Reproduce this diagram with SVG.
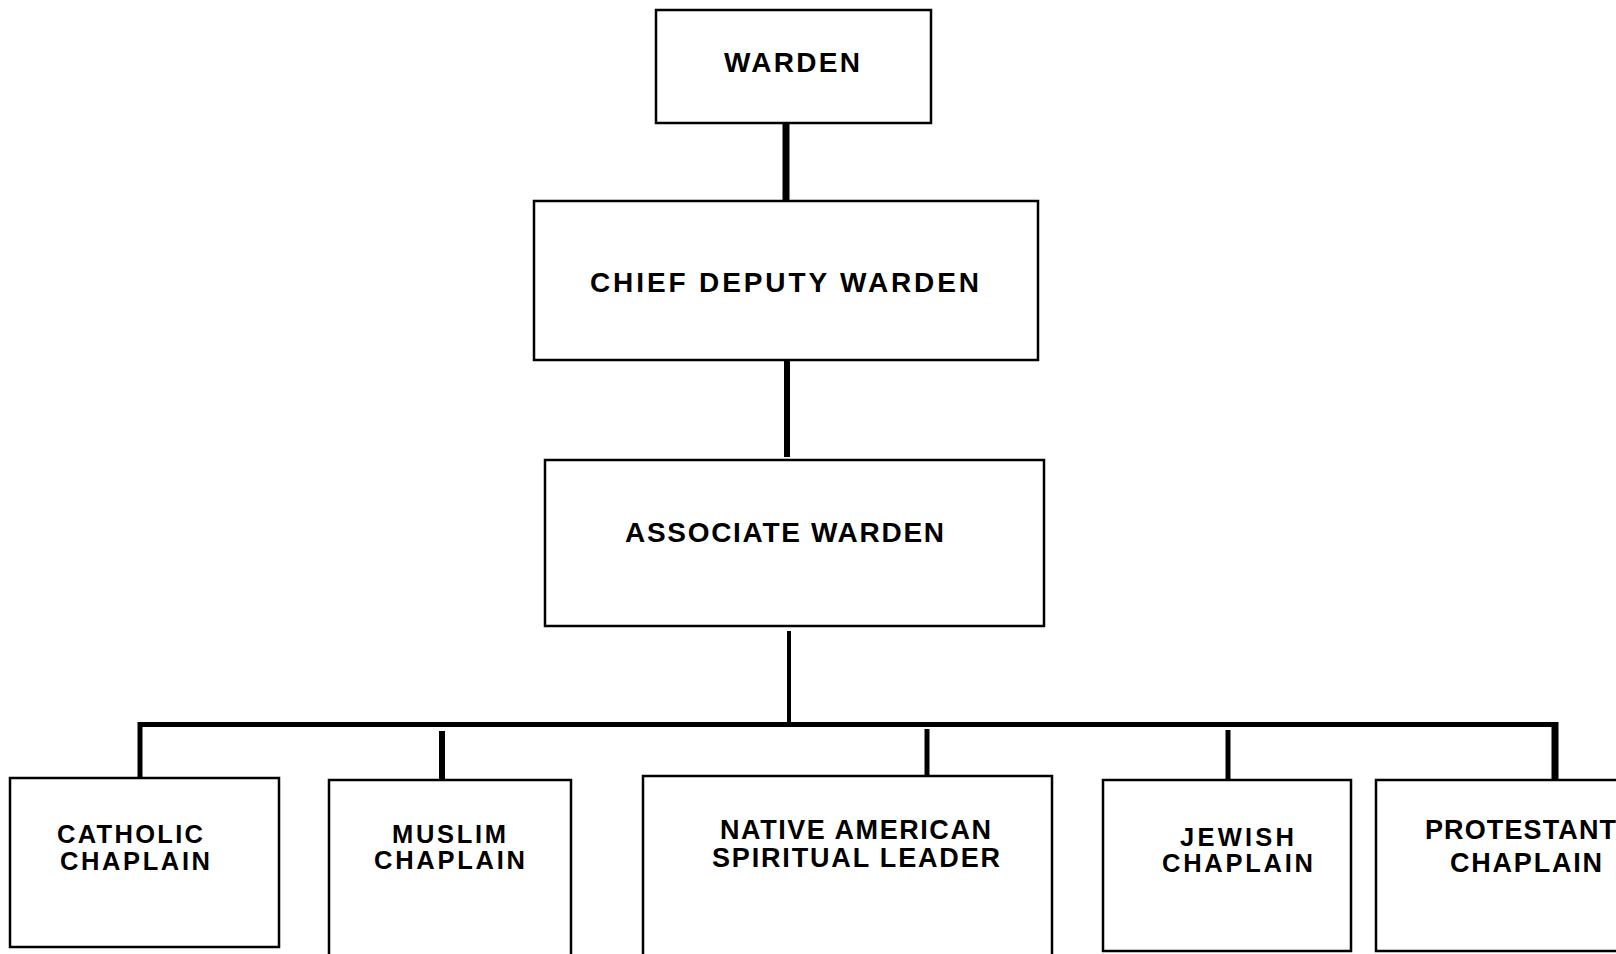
<svg xmlns="http://www.w3.org/2000/svg" width="1616" height="954" viewBox="0 0 1616 954">
<style>
.box{fill:#fff;stroke:#000;stroke-width:2.5}
.t{font-family:"Liberation Sans",Arial,sans-serif;font-weight:bold;font-size:28px;fill:#000}
.s{font-size:27px}
.n{font-size:25.5px}
.c{stroke:#000;fill:none;stroke-linecap:butt}
</style>
<rect width="1616" height="954" fill="#fff"/>
<g id="connectors">
<line class="c" x1="786" y1="123" x2="786" y2="201" stroke-width="7"/>
<line class="c" x1="787" y1="360" x2="787" y2="457" stroke-width="6"/>
<line class="c" x1="789" y1="631" x2="789" y2="725" stroke-width="4"/>
<line class="c" x1="138" y1="724.5" x2="1558" y2="724.5" stroke-width="5"/>
<line class="c" x1="140" y1="722" x2="140" y2="778" stroke-width="5"/>
<line class="c" x1="442" y1="731" x2="442" y2="780" stroke-width="6"/>
<line class="c" x1="927" y1="729" x2="927" y2="776" stroke-width="5"/>
<line class="c" x1="1228" y1="730" x2="1228" y2="780" stroke-width="5"/>
<line class="c" x1="1555" y1="722" x2="1555" y2="780" stroke-width="7"/>
</g>
<g id="warden">
<rect class="box" x="656" y="10" width="275" height="113"/>
<text class="t" x="724" y="72" textLength="136" lengthAdjust="spacing">WARDEN</text>
</g>
<g id="chief-deputy-warden">
<rect class="box" x="534" y="201" width="504" height="159"/>
<text class="t" x="590" y="292" textLength="389" lengthAdjust="spacing">CHIEF DEPUTY WARDEN</text>
</g>
<g id="associate-warden">
<rect class="box" x="545" y="460" width="499" height="166"/>
<text class="t" x="625" y="542" textLength="319" lengthAdjust="spacing">ASSOCIATE WARDEN</text>
</g>
<g id="catholic-chaplain">
<rect class="box" x="10" y="778" width="269" height="169"/>
<text class="t n" x="57" y="843" textLength="146" lengthAdjust="spacing">CATHOLIC</text>
<text class="t n" x="60" y="869.5" textLength="150" lengthAdjust="spacing">CHAPLAIN</text>
</g>
<g id="muslim-chaplain">
<rect class="box" x="329" y="780" width="242" height="190"/>
<text class="t n" x="392" y="842.5" textLength="114" lengthAdjust="spacing">MUSLIM</text>
<text class="t n" x="374" y="869" textLength="151" lengthAdjust="spacing">CHAPLAIN</text>
</g>
<g id="native-american-spiritual-leader">
<rect class="box" x="643" y="776" width="409" height="194"/>
<text class="t s" x="720" y="839" textLength="271" lengthAdjust="spacing">NATIVE AMERICAN</text>
<text class="t s" x="712" y="867" textLength="288" lengthAdjust="spacing">SPIRITUAL LEADER</text>
</g>
<g id="jewish-chaplain">
<rect class="box" x="1103" y="780" width="248" height="171"/>
<text class="t n" x="1180" y="845.5" textLength="114" lengthAdjust="spacing">JEWISH</text>
<text class="t n" x="1162" y="872" textLength="151" lengthAdjust="spacing">CHAPLAIN</text>
</g>
<g id="protestant-chaplain">
<rect class="box" x="1376" y="780" width="260" height="171"/>
<text class="t s" x="1425" y="839" textLength="191" lengthAdjust="spacing">PROTESTANT</text>
<text class="t s" x="1450" y="872" textLength="152" lengthAdjust="spacing">CHAPLAIN</text>
</g>
</svg>
